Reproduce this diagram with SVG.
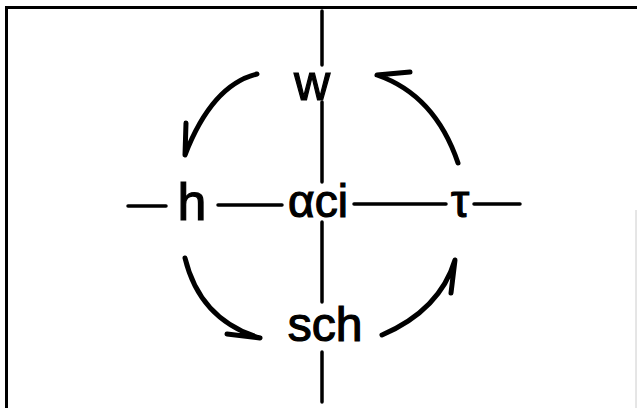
<svg xmlns="http://www.w3.org/2000/svg" width="637" height="408" viewBox="0 0 637 408">
<style>
.lbl{font-family:"Liberation Sans","DejaVu Sans",sans-serif;fill:#000;stroke:#000;stroke-width:1.2;text-anchor:middle}
.ln{stroke:#000;stroke-width:3.5;stroke-linecap:round;fill:none}
.arr{stroke:#000;stroke-width:5;stroke-linecap:round;stroke-linejoin:round;fill:none}
</style>
<rect width="637" height="408" fill="#fff"/>
<g id="frame">
<path d="M6.5,408 V7.5 H637" stroke="#000" stroke-width="3" fill="none"/>
<line x1="636" y1="210" x2="636" y2="408" stroke="#ccc" stroke-width="1"/>
</g>
<g id="connectors">
<line class="ln" x1="322" y1="11" x2="322" y2="65"/>
<line class="ln" x1="322" y1="102" x2="322" y2="182"/>
<line class="ln" x1="322" y1="222" x2="322" y2="302"/>
<line class="ln" x1="322" y1="352" x2="322" y2="402"/>
<line class="ln" x1="128" y1="206" x2="166" y2="206"/>
<line class="ln" x1="218" y1="205" x2="282" y2="205"/>
<line class="ln" x1="354" y1="204" x2="446" y2="204"/>
<line class="ln" x1="474" y1="204" x2="520" y2="204"/>
<path class="arr" d="M257,74 Q212,85 185,155 L186,123"/>
<path class="arr" d="M458,163 Q435,95 377,75 L410,72"/>
<path class="arr" d="M185,258 Q200,320 260,338 L227,334"/>
<path class="arr" d="M382,335 Q440,310 455,260 L451,293"/>
</g>
<g id="node-w"><text class="lbl" x="312" y="100" font-size="50">w</text></g>
<g id="node-h"><text class="lbl" x="192" y="220" font-size="52">h</text></g>
<g id="node-aci"><text class="lbl" x="318" y="217" font-size="46">αci</text></g>
<g id="node-tau"><text class="lbl" x="460" y="217" font-size="46">τ</text></g>
<g id="node-sch"><text class="lbl" x="325" y="341" font-size="48">sch</text></g>
</svg>
